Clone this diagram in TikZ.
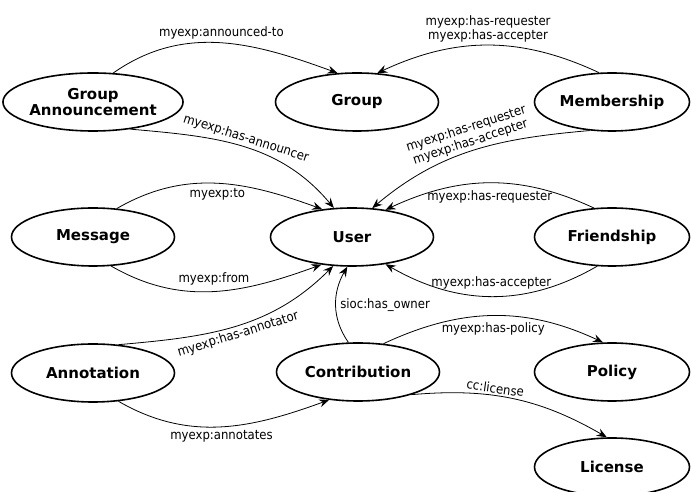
\documentclass[tikz,border=0pt]{standalone}
\usepackage{fontspec}
\setmainfont{DejaVu Sans}
\newfontfamily\edgefont{DejaVu Sans Condensed}
\usetikzlibrary{arrows.meta,shapes.geometric}
\begin{document}
\begin{tikzpicture}[x=1pt,y=1pt,
    cls/.style={ellipse,draw,line width=1.6pt,minimum width=163pt,minimum height=58pt,
      inner sep=0pt,align=center,font=\bfseries\fontsize{15}{16}\selectfont},
    rcls/.style={cls,minimum width=155pt},
    lbl/.style={font=\edgefont\fontsize{13}{14}\selectfont,inner sep=2pt,align=center}]
      \useasboundingbox (0,0) rectangle (691,492);
      \draw
        (93,390) node[cls] (ga){Group\\Announcement}
        (357,390) node[cls] (grp){Group}
        (612,390) node[rcls] (mem){Membership}
        (93,255) node[cls] (msg){Message}
        (352,255) node[cls] (usr){User}
        (612,255) node[rcls] (frd){Friendship}
        (93,119) node[cls] (ann){Annotation}
        (358,120) node[cls] (con){Contribution}
        (612,120) node[rcls] (pol){Policy}
        (612,25) node[rcls] (lic){License};
      \begin{scope}[-{Stealth[length=10pt,width=8pt,inset=3.5pt]},line width=0.8pt]
        \draw (ga.55) to[out=35,in=160] node[lbl,midway,above=1pt]{myexp:announced-to} (grp.124);
        \draw (mem.114) to[out=155,in=25] node[lbl,midway,above=1pt]{myexp:has-requester\\myexp:has-accepter} (grp.55);
        \draw (ga.-36) to[out=-5,in=130] node[lbl,midway,above,sloped]{myexp:has-announcer} (usr.122);
        \draw (mem.-128) to[out=185,in=40] node[lbl,midway,above,sloped]{myexp:has-requester\\myexp:has-accepter} (usr.55);
        \draw (msg.50) to[out=30,in=160] node[lbl,midway,below=3pt]{myexp:to} (usr.137);
        \draw (msg.-58) to[out=-30,in=200] node[lbl,midway,above=4pt]{myexp:from} (usr.-138);
        \draw (frd.122) to[out=155,in=25] node[lbl,midway,below=5pt]{myexp:has-requester} (usr.39);
        \draw (frd.-117) to[out=210,in=-30] node[lbl,midway,above=5pt]{myexp:has-accepter} (usr.-39);
        \draw (ann.48) to[out=5,in=225] node[lbl,midway,below,sloped]{myexp:has-annotator} (usr.-123);
        \draw (con.108) to[out=125,in=240] node[lbl,midway,right=2pt]{sioc:has\_owner} (usr.-99);
        \draw (con.48) to[out=25,in=155] node[lbl,midway,below=4pt]{myexp:has-policy} (pol.107);
        \draw (con.-23) to[out=5,in=150] node[lbl,pos=0.4,above,sloped]{cc:license} (lic.100);
        \draw (ann.-48) to[out=-30,in=200] node[lbl,midway,below=1pt]{myexp:annotates} (con.-136);
      \end{scope}
    \end{tikzpicture}
\end{document}
